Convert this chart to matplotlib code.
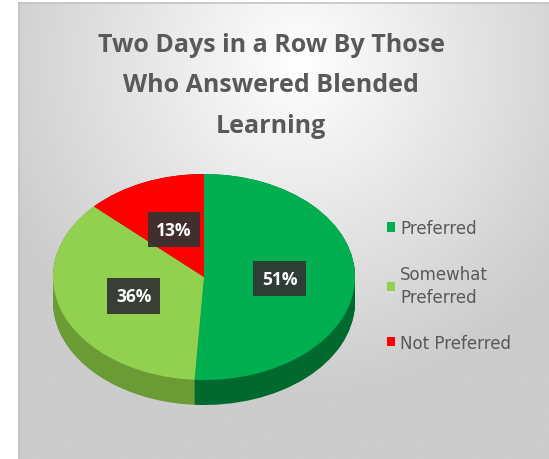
import numpy as np
import matplotlib
matplotlib.use("Agg")
import matplotlib.pyplot as plt
from matplotlib.lines import Line2D

# data
categories = ["Preferred", "Somewhat Preferred", "Not Preferred"]
legend_labels = ["Preferred", "Somewhat\nPreferred", "Not Preferred"]
shares = [51, 36, 13]
top_colors = ["#00B050", "#92D050", "#FF0000"]
side_colors = ["#006A2E", "#6A9B34", "#B00000"]
title = "Two Days in a Row By Those\nWho Answered Blended\nLearning"

W, H = 549, 460
fig = plt.figure(figsize=(W / 100, H / 100), dpi=100)

# background with a soft radial gradient, like the Excel chart area
bg = fig.add_axes([0, 0, 1, 1])
bg.set_xlim(0, W)
bg.set_ylim(H, 0)
bg.axis("off")
yy, xx = np.mgrid[0:H, 0:W]
dist = np.sqrt(((xx - 290) / 400.0) ** 2 + ((yy - 60) / 400.0) ** 2)
shade = np.clip(1.0 - 0.24 * dist, 0.80, 1.0)
img = np.dstack([shade, shade, shade])
bg.imshow(img, extent=[18, W, H, 3], aspect="auto", zorder=0)
bg.add_line(Line2D([18.5, 18.5, W], [H, 3.5, 3.5], color="#C4C4C4", lw=1.2, zorder=1))

# pie axes, squashed so the pie looks tilted
depth = 25 / 103.0
ax = fig.add_axes([53 / W, 1 - 406 / H, 302 / W, 231 / H])
n_layers = 30
for k in range(n_layers):
    d = depth * (1 - k / (n_layers - 1))
    ax.pie(shares, colors=side_colors, startangle=90, counterclock=False,
           center=(0, -d), radius=1, wedgeprops=dict(linewidth=0))

wedges, _, autotexts = ax.pie(
    shares, colors=top_colors, startangle=90, counterclock=False,
    autopct="%1.0f%%", pctdistance=0.5, radius=1,
    wedgeprops=dict(linewidth=0),
    textprops=dict(color="white", fontsize=12.5, fontweight="bold", family="Open Sans"))
for t in autotexts:
    t.set_bbox(dict(boxstyle="square,pad=0.5", facecolor="#333333", edgecolor="none", alpha=0.92))

ax.set_aspect("auto")
ax.set_xlim(-1, 1)
ax.set_ylim(-1 - depth, 1)
ax.axis("off")

fig.text(271 / W, 1 - 86 / H, title, ha="center", va="center", fontsize=18,
         fontweight="bold", family="Open Sans", color="#595959", linespacing=1.8)

leg = fig.legend(wedges, legend_labels, loc="upper left",
                 bbox_to_anchor=(372 / W, 1 - 205 / H), frameon=False,
                 handlelength=0.5, handleheight=0.5, handletextpad=0.3,
                 labelspacing=1.65, prop=dict(family="DejaVu Sans", size=12))
for t in leg.get_texts():
    t.set_color("#595959")
    t.set_linespacing(1.4)

fig.savefig("out.png", dpi=100)
